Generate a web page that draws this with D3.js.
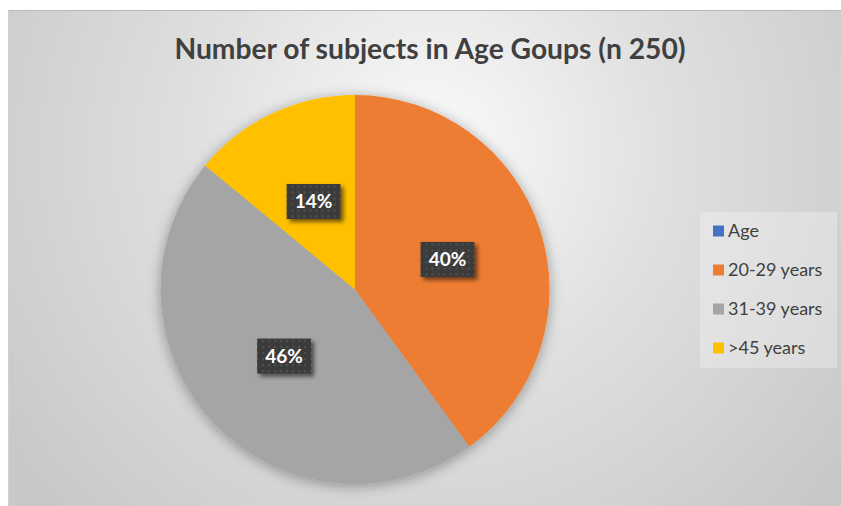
<!DOCTYPE html>
<html>
<head>
<meta charset="utf-8">
<script src="https://cdn.jsdelivr.net/npm/d3@7/dist/d3.min.js"></script>
<style>
  html, body { margin: 0; padding: 0; background: #ffffff; }
  svg { display: block; }
</style>
</head>
<body>
<svg id="chart" width="841" height="506"></svg>
<script>
// Age groups and their share of the 250 subjects (percent)
const categories = ["Age", "20-29 years", "31-39 years", ">45 years"];
const shares = [0, 40, 46, 14];
const colours = ["#4472C4", "#ED7D31", "#A5A5A5", "#FFC000"];
const titleText = "Number of subjects in Age Goups (n 250)";

const W = 841, H = 506;
const svg = d3.select("#chart");
const defs = svg.append("defs");

// chart area background: soft radial gradient
const bg = defs.append("radialGradient").attr("id", "bgGrad")
  .attr("gradientUnits", "userSpaceOnUse")
  .attr("cx", 430).attr("cy", 150).attr("r", 520);
bg.append("stop").attr("offset", "0%").attr("stop-color", "#fbfbfb");
bg.append("stop").attr("offset", "45%").attr("stop-color", "#e0e0e0");
bg.append("stop").attr("offset", "100%").attr("stop-color", "#c8c8c8");

// soft glow around the pie
const glow = defs.append("filter").attr("id", "pieShadow")
  .attr("x", "-20%").attr("y", "-20%").attr("width", "140%").attr("height", "140%");
glow.append("feGaussianBlur").attr("in", "SourceAlpha").attr("stdDeviation", 7).attr("result", "b");
glow.append("feOffset").attr("in", "b").attr("dx", 0).attr("dy", 2).attr("result", "o");
glow.append("feComponentTransfer").attr("in", "o").attr("result", "s")
  .append("feFuncA").attr("type", "linear").attr("slope", 0.35);
const gm = glow.append("feMerge");
gm.append("feMergeNode").attr("in", "s");
gm.append("feMergeNode").attr("in", "SourceGraphic");

// drop shadow for the data label boxes
const lblSh = defs.append("filter").attr("id", "lblShadow")
  .attr("x", "-30%").attr("y", "-30%").attr("width", "170%").attr("height", "170%");
lblSh.append("feGaussianBlur").attr("in", "SourceAlpha").attr("stdDeviation", 2).attr("result", "b");
lblSh.append("feOffset").attr("in", "b").attr("dx", 3).attr("dy", 3).attr("result", "o");
lblSh.append("feComponentTransfer").attr("in", "o").attr("result", "s")
  .append("feFuncA").attr("type", "linear").attr("slope", 0.55);
const lm = lblSh.append("feMerge");
lm.append("feMergeNode").attr("in", "s");
lm.append("feMergeNode").attr("in", "SourceGraphic");

// dotted texture for the label boxes
const pat = defs.append("pattern").attr("id", "dots")
  .attr("patternUnits", "userSpaceOnUse").attr("width", 6).attr("height", 6);
pat.append("rect").attr("width", 6).attr("height", 6).attr("fill", "#3b3b3b");
pat.append("circle").attr("cx", 3).attr("cy", 3).attr("r", 0.9).attr("fill", "#5c5c5c");

// frame
svg.append("rect").attr("x", 8).attr("y", 10).attr("width", W - 8).attr("height", H - 10)
  .attr("fill", "url(#bgGrad)");
svg.append("line").attr("x1", 8).attr("x2", W).attr("y1", 10.5).attr("y2", 10.5)
  .attr("stroke", "#b8b8b8").attr("stroke-width", 1);
svg.append("line").attr("x1", 8.5).attr("x2", 8.5).attr("y1", 10).attr("y2", H)
  .attr("stroke", "#d0d0d0").attr("stroke-width", 1);

// title
svg.append("text")
  .attr("x", 430).attr("y", 59)
  .attr("text-anchor", "middle")
  .attr("font-family", "Lato, 'Open Sans', sans-serif")
  .attr("font-weight", 700)
  .attr("font-size", 29)
  .attr("fill", "#404040")
  .attr("textLength", 511)
  .attr("lengthAdjust", "spacingAndGlyphs")
  .text(titleText);

// pie
const cx = 355, cy = 289.5, R = 194.5;
const data = categories.map((c, i) => ({ cat: c, value: shares[i], colour: colours[i] }));
const pie = d3.pie().sort(null).value(d => d.value);
const arcs = pie(data);
const arc = d3.arc().innerRadius(0).outerRadius(R);
const labelArc = d3.arc().innerRadius(R * 0.5).outerRadius(R * 0.5);

const gPie = svg.append("g").attr("transform", `translate(${cx},${cy})`)
  .attr("filter", "url(#pieShadow)");
gPie.selectAll("path").data(arcs).join("path")
  .attr("d", arc)
  .attr("fill", d => d.data.colour);

// data labels
const gLbl = svg.append("g").attr("transform", `translate(${cx},${cy})`);
const lbl = gLbl.selectAll("g").data(arcs.filter(d => d.data.value > 0)).join("g")
  .attr("transform", d => `translate(${labelArc.centroid(d)})`);
lbl.append("rect")
  .attr("x", -27).attr("y", -17.5).attr("width", 54).attr("height", 35)
  .attr("fill", "url(#dots)")
  .attr("filter", "url(#lblShadow)");
lbl.append("text")
  .attr("text-anchor", "middle")
  .attr("dy", "0.36em")
  .attr("font-family", "Lato, 'Open Sans', sans-serif")
  .attr("font-weight", 700)
  .attr("font-size", 19)
  .attr("fill", "#ffffff")
  .text(d => d.data.value + "%");

// legend
const lg = svg.append("g");
lg.append("rect").attr("x", 700).attr("y", 212).attr("width", 137).attr("height", 156)
  .attr("fill", "#ffffff").attr("fill-opacity", 0.28);
const ly = d3.scalePoint().domain(categories).range([231, 348]);
const item = lg.selectAll("g").data(data).join("g")
  .attr("transform", d => `translate(713,${ly(d.cat)})`);
item.append("rect").attr("x", 0).attr("y", -5.5).attr("width", 11).attr("height", 11)
  .attr("fill", d => d.colour);
item.append("text")
  .attr("x", 15).attr("dy", "0.35em")
  .attr("font-family", "Lato, 'Open Sans', sans-serif")
  .attr("font-size", 18)
  .attr("fill", "#404040")
  .text(d => d.cat);
</script>
</body>
</html>
